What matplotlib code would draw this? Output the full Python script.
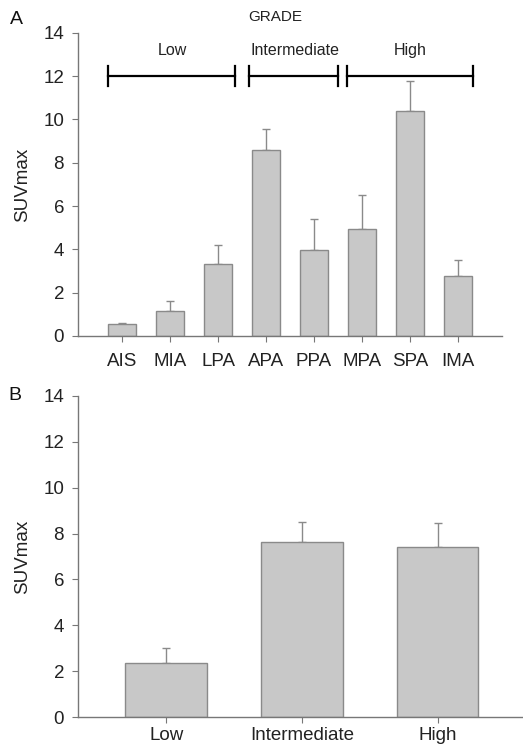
import matplotlib
matplotlib.use("Agg")
import matplotlib.pyplot as plt

plt.rcParams['font.family'] = ['Liberation Sans', 'DejaVu Sans']

cats_a = ["AIS", "MIA", "LPA", "APA", "PPA", "MPA", "SPA", "IMA"]
vals_a = [0.55, 1.15, 3.3, 8.6, 3.95, 4.95, 10.4, 2.75]
errs_a = [0.05, 0.45, 0.9, 0.95, 1.45, 1.55, 1.4, 0.75]

cats_b = ["Low", "Intermediate", "High"]
vals_b = [2.35, 7.65, 7.4]
errs_b = [0.65, 0.85, 1.05]

grade_names = ["Low", "Intermediate", "High"]
grade_spans = [(-0.3, 2.35), (2.65, 4.5), (4.69, 7.31)]
grade_label_x = [1.04, 3.6, 6.0]

fig = plt.figure(figsize=(5.23, 7.48), dpi=100)
axA = fig.add_axes([0.149, 0.551, 0.811, 0.405])
axB = fig.add_axes([0.149, 0.0414, 0.851, 0.4292])

bar_kw = dict(color="#c8c8c8", edgecolor="#8a8a8a", linewidth=1.0, width=0.6, zorder=2)
err_kw = dict(ecolor="#8a8a8a", elinewidth=1.0, capsize=3, capthick=1.0)

for ax in (axA, axB):
    for s in ("top", "right"):
        ax.spines[s].set_visible(False)
    for s in ("left", "bottom"):
        ax.spines[s].set_color("#777777")
        ax.spines[s].set_linewidth(1.0)
    ax.set_ylim(0, 14)
    ax.set_yticks(range(0, 15, 2))
    ax.tick_params(axis="both", colors="#777777", labelcolor="#222222", length=4, width=0.8)
    ax.tick_params(axis="y", labelsize=13.5, pad=6)
    ax.set_ylabel("SUVmax", fontsize=13.5, color="#222222", labelpad=9)

axA.tick_params(axis="x", labelsize=13.5, pad=8)
axB.tick_params(axis="x", labelsize=13.5, pad=3)

xa = list(range(len(cats_a)))
axA.bar(xa, vals_a, **bar_kw)
axA.errorbar(xa, vals_a, yerr=[[0]*len(errs_a), errs_a], fmt="none", zorder=1, **err_kw)
axA.set_xticks(xa)
axA.set_xticklabels(cats_a)
axA.set_xlim(-0.92, 7.92)

for (x0, x1), name, lx in zip(grade_spans, grade_names, grade_label_x):
    axA.plot([x0, x1], [12, 12], color="black", lw=1.6, zorder=3, clip_on=False)
    axA.plot([x0, x0], [11.55, 12.45], color="black", lw=1.6, zorder=3, clip_on=False)
    axA.plot([x1, x1], [11.55, 12.45], color="black", lw=1.6, zorder=3, clip_on=False)
    axA.text(lx, 13.2, name, ha="center", va="center", fontsize=11.5, color="#222222")

fig.text(275/523, 1 - 17/748, "GRADE", ha="center", va="center", fontsize=11, color="#222222")
fig.text(10/523, 1 - 20/748, "A", ha="left", va="center", fontsize=14, color="#111111")
fig.text(8/523, 1 - 395/748, "B", ha="left", va="center", fontsize=14, color="#111111")

xb = list(range(len(cats_b)))
axB.bar(xb, vals_b, **bar_kw)
axB.errorbar(xb, vals_b, yerr=[[0]*len(errs_b), errs_b], fmt="none", zorder=1, **err_kw)
axB.set_xticks(xb)
axB.set_xticklabels(cats_b)
axB.set_xlim(-0.65, 2.63)

fig.savefig("out.png", dpi=100)
